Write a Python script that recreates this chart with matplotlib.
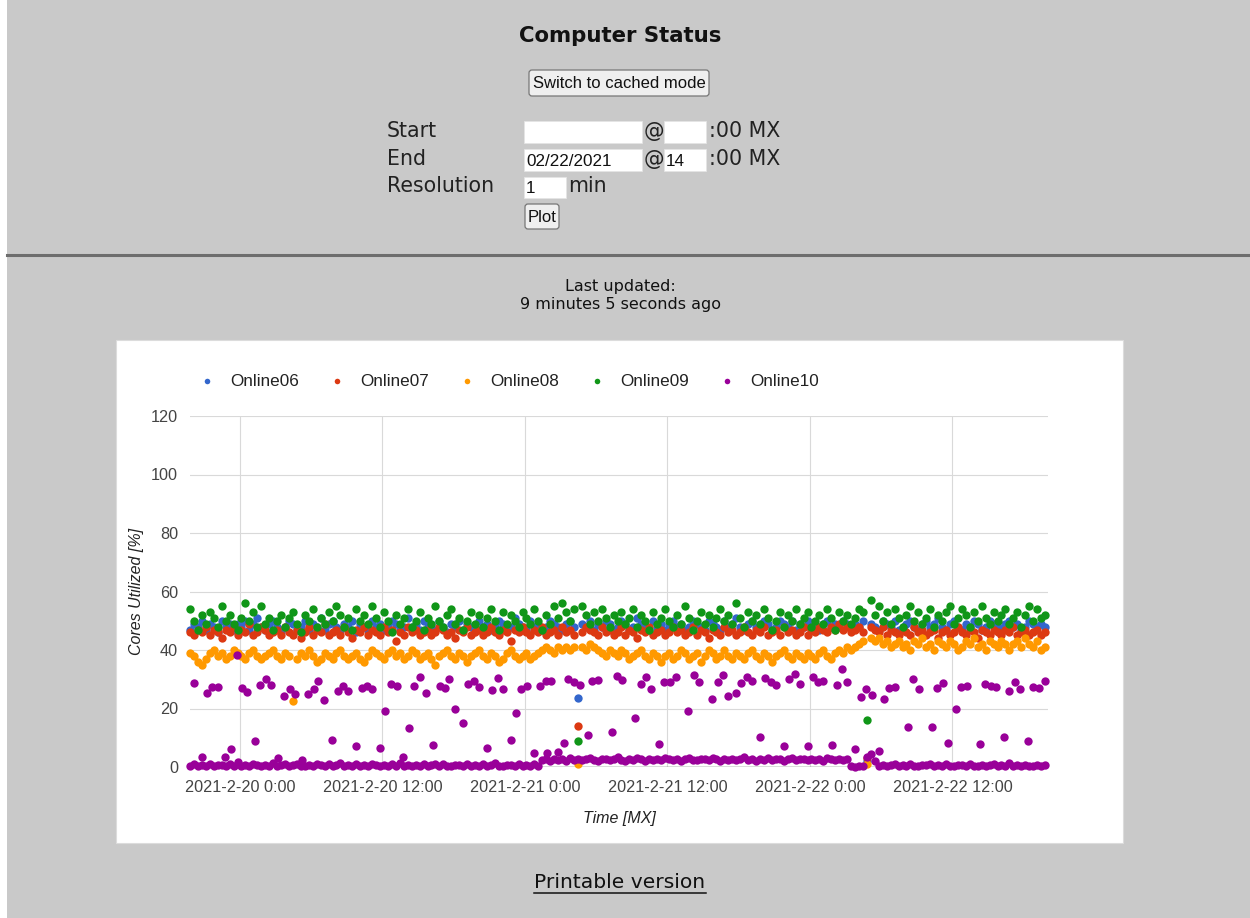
import matplotlib
matplotlib.use("Agg")
import matplotlib.pyplot as plt
from matplotlib.patches import Rectangle, FancyBboxPatch
from matplotlib.lines import Line2D
from matplotlib.transforms import Affine2D
from datetime import datetime, timedelta

W, H = 1250, 918

hosts = ["Online06", "Online07", "Online08", "Online09", "Online10"]
colors = ["#3366cc", "#dc3912", "#ff9900", "#109618", "#990099"]

# samples every 20 min starting here
t0 = datetime(2021, 2, 19, 19, 48)
step_min = 20

online06 = [47, 49, 48, 50, 47, 49, 48, 46, 50, 48, 49, 47,
            49, 48, 50, 47, 49, 51, 48, 47, 49, 50, 48, 46,
            48, 50, 49, 47, 48, 50, 47, 49, 48, 51, 47, 49,
            50, 48, 47, 49, 48, 50, 46, 49, 48, 47, 50, 48,
            49, 47, 48, 50, 49, 47, 48, 51, 48, 49, 47, 50,
            48, 49, 47, 50, 48, 46, 49, 48, 50, 47, 49, 48,
            47, 50, 48, 49, 47, 48, 50, 49, 47, 48, 51, 49,
            48, 47, 50, 48, 49, 47, 48, 50, 49, 48, 47, 49,
            50, 48, 23.5, 49, 48, 50, 47, 49, 48, 50, 49, 47,
            48, 50, 49, 47, 48, 51, 49, 48, 47, 50, 48, 49,
            47, 49, 50, 48, 49, 47, 48, 50, 49, 48, 47, 50,
            49, 48, 47, 50, 48, 49, 51, 48, 47, 49, 50, 48,
            48, 50, 49, 47, 48, 50, 49, 48, 50, 47, 49, 48,
            50, 49, 48, 47, 49, 50, 48, 49, 48, 50, 49, 48,
            49, 48, 50, 2, 49, 48, 47, 50, 49, 48, 50, 47,
            48, 49, 50, 48, 47, 49, 50, 48, 49, 51, 48, 47,
            49, 50, 48, 47, 49, 48, 50, 49, 47, 48, 50, 49,
            48, 47, 49, 50, 48, 49, 47, 48, 50, 49, 48, 49,
            48]

online07 = [46, 45, 47, 46, 48, 45, 47, 46, 44, 47, 46, 48,
            45, 47, 46, 49, 45, 46, 48, 47, 45, 46, 47, 45,
            48, 46, 45, 47, 44, 46, 48, 45, 47, 46, 49, 45,
            46, 47, 45, 48, 46, 44, 47, 46, 48, 45, 47, 46,
            45, 48, 46, 47, 43, 46, 45, 48, 46, 47, 45, 46,
            47, 45, 46, 48, 47, 45, 46, 44, 47, 46, 48, 45,
            46, 47, 45, 46, 48, 46, 45, 47, 46, 43, 47, 46,
            48, 46, 45, 47, 46, 48, 45, 46, 47, 45, 48, 46,
            47, 45, 14, 46, 48, 47, 46, 45, 48, 46, 47, 45,
            46, 48, 45, 47, 46, 44, 47, 46, 48, 45, 46, 47,
            45, 46, 48, 46, 47, 45, 46, 48, 45, 47, 46, 44,
            47, 46, 45, 48, 46, 47, 45, 46, 48, 46, 45, 47,
            46, 48, 45, 46, 47, 45, 48, 46, 47, 45, 46, 48,
            45, 47, 46, 48, 47, 46, 48, 47, 49, 47, 48, 46,
            47, 48, 46, 3, 48, 47, 46, 48, 45, 47, 46, 45,
            47, 46, 45, 48, 46, 47, 45, 46, 47, 44, 46, 47,
            45, 46, 48, 46, 45, 47, 46, 44, 47, 46, 45, 47,
            46, 45, 47, 46, 48, 45, 46, 47, 45, 46, 47, 45,
            46]

online08 = [39, 38, 36, 35, 37, 39, 40, 38, 39, 37, 38, 40,
            39, 38, 37, 39, 40, 38, 37, 38, 39, 40, 38, 37,
            39, 38, 22.5, 37, 39, 38, 40, 38, 36, 37, 39, 38,
            37, 39, 40, 38, 37, 38, 39, 37, 36, 38, 40, 39,
            38, 37, 39, 40, 38, 39, 37, 38, 40, 39, 37, 38,
            39, 37, 35, 38, 39, 40, 38, 37, 39, 38, 36, 38,
            39, 40, 38, 37, 39, 38, 36, 37, 39, 40, 38, 37,
            38, 39, 37, 38, 39, 40, 41, 40, 39, 41, 40, 41,
            40, 41, 1, 41, 40, 42, 41, 40, 39, 38, 40, 39,
            38, 40, 39, 37, 38, 39, 40, 38, 37, 39, 38, 36,
            38, 39, 37, 38, 40, 39, 37, 38, 39, 36, 38, 40,
            39, 37, 38, 40, 38, 37, 39, 38, 37, 39, 40, 38,
            37, 39, 38, 36, 38, 39, 40, 38, 37, 39, 38, 37,
            39, 38, 37, 39, 40, 38, 37, 39, 40, 39, 41, 40,
            41, 42, 43, 1, 44, 43, 44, 42, 43, 41, 42, 43,
            41, 42, 40, 43, 42, 44, 41, 42, 40, 43, 42, 41,
            43, 42, 40, 41, 43, 42, 44, 41, 42, 40, 43, 42,
            41, 43, 42, 40, 42, 43, 41, 44, 42, 41, 43, 40,
            41]

online09 = [54, 50, 47, 52, 49, 53, 51, 48, 55, 50, 52, 49,
            47, 51, 56, 50, 53, 48, 55, 49, 51, 47, 50, 52,
            48, 51, 53, 49, 46, 52, 50, 54, 48, 51, 49, 53,
            50, 55, 52, 48, 51, 47, 54, 50, 52, 49, 55, 51,
            48, 53, 50, 46, 52, 49, 51, 54, 48, 50, 53, 47,
            51, 49, 55, 50, 48, 52, 54, 49, 51, 47, 50, 53,
            49, 52, 48, 51, 54, 50, 47, 53, 49, 52, 50, 48,
            53, 51, 49, 54, 50, 47, 52, 49, 55, 51, 56, 53,
            50, 54, 9, 55, 52, 49, 53, 50, 54, 51, 48, 52,
            50, 53, 49, 51, 54, 48, 52, 50, 47, 53, 49, 51,
            54, 50, 48, 52, 49, 55, 51, 47, 50, 53, 49, 52,
            48, 51, 54, 50, 52, 49, 56, 51, 48, 53, 50, 52,
            49, 54, 51, 47, 50, 53, 48, 52, 50, 54, 49, 51,
            53, 48, 50, 52, 49, 54, 51, 47, 53, 50, 52, 49,
            51, 54, 53, 16, 57, 52, 55, 50, 53, 49, 54, 51,
            48, 52, 55, 50, 53, 49, 51, 54, 48, 52, 50, 53,
            55, 49, 51, 54, 52, 48, 53, 50, 55, 51, 49, 53,
            50, 52, 54, 49, 51, 53, 48, 52, 55, 50, 54, 51,
            52]

online10 = [0.4, 0.9, 0.3, 0.7, 0.5, 1.1, 0.2, 0.8, 0.6, 0.3, 0.9, 0.5,
            1.6, 0.4, 0.7, 0.2, 1.0, 0.6, 0.3, 0.8, 0.5, 1.2, 0.4, 0.7,
            0.9, 0.3, 0.6, 1.0, 0.2, 0.5, 0.8, 0.4, 1.1, 0.6, 0.3, 0.9,
            0.5, 0.7, 1.3, 0.4, 0.6, 0.2, 0.9, 0.5, 0.8, 0.3, 1.0, 0.6,
            0.4, 0.7, 0.3, 0.9, 0.5, 1.2, 0.4, 0.7, 0.2, 0.8, 0.5, 1.0,
            0.3, 0.6, 0.9, 0.4, 1.1, 0.5, 0.2, 0.8, 0.6, 0.3, 1.0, 0.5,
            0.7, 0.4, 0.9, 0.2, 0.6, 1.2, 0.5, 0.3, 0.8, 0.6, 0.4, 0.9,
            0.5, 0.7, 0.3, 1.0, 0.4, 2.3, 2.6, 2.1, 2.9, 2.4, 2.7, 2.2,
            3.0, 2.5, 2.8, 2.3, 2.6, 3.1, 2.4, 2.0, 2.7, 2.9, 2.3, 2.6,
            3.3, 2.5, 2.2, 2.8, 2.4, 3.0, 2.6, 2.1, 2.9, 2.5, 2.7, 2.3,
            3.2, 2.6, 2.4, 2.8, 2.2, 2.7, 3.0, 2.5, 2.3, 2.9, 2.6, 2.4,
            3.1, 2.7, 2.2, 2.8, 2.5, 2.9, 2.3, 2.6, 3.4, 2.4, 2.7, 2.1,
            2.8, 2.5, 3.0, 2.3, 2.6, 2.9, 2.2, 2.7, 3.1, 2.4, 2.6, 2.8,
            2.3, 2.9, 2.5, 2.7, 2.2, 3.0, 2.6, 2.4, 2.8, 2.5, 2.7, 0.3,
            0.1, 0.4, 0.2, 3.5, 4.6, 2.0, 0.5, 0.8, 0.3, 0.6, 1.0, 0.4,
            0.7, 0.2, 0.9, 0.5, 0.3, 0.8, 0.6, 1.1, 0.4, 0.7, 0.2, 0.9,
            0.5, 0.3, 0.8, 0.6, 0.4, 1.0, 0.5, 0.3, 0.7, 0.4, 0.6, 0.9,
            0.3, 0.7, 0.5, 1.2, 0.4, 0.6, 0.2, 0.8, 0.5, 0.3, 0.7, 0.4,
            0.6]

# Online10 also logs bursts in between the regular samples (hours after t0)
online10_burst_h = [0.34, 0.99, 1.41, 1.85, 2.36, 2.95, 3.45, 3.93, 4.35, 4.77,
                    5.47, 5.89, 6.37, 6.82, 7.44, 7.92, 8.42, 8.84, 9.46, 9.91,
                    10.42, 10.80, 11.28, 11.93, 12.44, 12.91, 13.33, 13.95, 14.46, 14.88,
                    15.30, 16.00, 16.42, 16.93, 17.41, 17.96, 18.44, 18.89, 19.39, 19.85,
                    20.49, 21.05, 21.47, 21.84, 22.32, 22.96, 23.44, 23.89, 24.34, 24.98,
                    25.46, 25.91, 26.33, 27.01, 27.45, 27.87, 28.35, 28.99, 29.47, 29.98,
                    30.09, 30.40, 31.01, 31.52, 31.86, 32.36, 32.84, 33.49, 33.88, 34.38,
                    35.51, 35.93, 36.40, 37.47, 37.95, 38.38, 38.80, 39.49, 39.94, 40.42,
                    40.90, 41.96, 42.44, 42.86, 43.98, 44.44, 44.86, 45.33, 45.98, 46.43,
                    46.88, 47.30, 48.00, 48.42, 48.90, 49.35, 50.02, 50.47, 50.95, 51.37,
                    52.02, 52.44, 52.91, 53.33, 54.04, 54.46, 54.93, 55.35, 56.00, 56.48,
                    56.93, 57.41, 58.02, 58.47, 58.89, 59.37, 60.49, 60.91, 61.39, 62.46,
                    62.93, 63.38, 63.86, 64.51, 64.93, 65.41, 66.53, 66.95, 67.43, 67.87,
                    68.55, 68.99, 69.47, 69.89, 70.54, 70.97, 71.47, 72.00]
online10_burst_v = [28.6, 3.5, 25.2, 27.2, 27.2, 3.5, 6.0, 38.3, 26.9, 25.5,
                    8.9, 28.0, 30.0, 28.0, 3.0, 24.3, 26.6, 25.0, 2.4, 25.0,
                    26.8, 29.5, 22.9, 9.2, 26.0, 27.7, 26.1, 7.2, 27.1, 27.7,
                    26.8, 6.4, 19.1, 28.4, 27.7, 3.3, 13.4, 27.7, 30.8, 25.2,
                    7.5, 27.7, 26.9, 30.1, 19.7, 15.2, 28.4, 29.5, 27.2, 6.6,
                    26.3, 30.3, 26.8, 9.2, 18.3, 26.8, 27.8, 4.9, 27.7, 29.5,
                    4.9, 29.5, 5.2, 8.1, 30.1, 29.2, 28.0, 10.8, 29.4, 29.7,
                    12.0, 31.2, 29.7, 16.8, 28.4, 30.9, 26.6, 7.8, 29.1, 29.1,
                    30.9, 19.3, 31.5, 29.2, 23.2, 29.2, 31.5, 24.3, 25.2, 28.6,
                    30.9, 29.5, 10.1, 30.3, 29.1, 28.0, 7.3, 30.0, 31.8, 28.4,
                    7.2, 30.9, 29.1, 29.5, 7.5, 27.9, 33.5, 29.1, 6.0, 23.8,
                    26.8, 24.6, 5.5, 23.2, 27.1, 27.2, 13.8, 30.1, 26.7, 13.6,
                    26.9, 28.6, 8.3, 19.7, 27.5, 27.7, 8.0, 28.4, 27.8, 27.5,
                    10.1, 26.1, 29.2, 26.7, 9.0, 27.5, 26.9, 29.5]

x_ticks = [datetime(2021, 2, 20, 0), datetime(2021, 2, 20, 12),
           datetime(2021, 2, 21, 0), datetime(2021, 2, 21, 12),
           datetime(2021, 2, 22, 0), datetime(2021, 2, 22, 12)]
x_tick_labels = ["2021-2-20 0:00", "2021-2-20 12:00", "2021-2-21 0:00",
                 "2021-2-21 12:00", "2021-2-22 0:00", "2021-2-22 12:00"]
y_ticks = [0, 20, 40, 60, 80, 100, 120]

times = [t0 + timedelta(minutes=step_min * i) for i in range(len(online06))]
burst_times = [t0 + timedelta(hours=h) for h in online10_burst_h]

fig = plt.figure(figsize=(W / 100, H / 100), dpi=100, facecolor="#c9c9c9")
# page coordinates in pixels, y pointing down
px = Affine2D().scale(1 / W, -1 / H).translate(0, 1) + fig.transFigure

PAGE_FONT = "DejaVu Sans"
UI_FONT = "Liberation Sans"

fig.add_artist(Rectangle((0, 0), 7, H, transform=px, facecolor="white",
                         edgecolor="none", zorder=-2))

# header form
fig.text(620, 36, "Computer Status", transform=px, ha="center", va="center",
         fontsize=15.3, fontweight="bold", family=PAGE_FONT, color="#111111")


def button(x, y, w, h, label):
    fig.add_artist(FancyBboxPatch((x, y), w, h, boxstyle="round,pad=0,rounding_size=3",
                                  transform=px, facecolor="#efefef", edgecolor="#767676",
                                  linewidth=0.9))
    fig.text(x + w / 2, y + h / 2 + 1, label, transform=px, ha="center", va="center",
             fontsize=12, family=UI_FONT, color="#111111")


def field(x, y, w, h, value=""):
    fig.add_artist(Rectangle((x, y), w, h, transform=px, facecolor="white",
                             edgecolor="#e4e4e4", linewidth=0.6))
    if value:
        fig.text(x + 2, y + h / 2 + 1, value, transform=px, ha="left", va="center",
                 fontsize=12.3, family=UI_FONT, color="#111111")


button(529, 70, 180, 26, "Switch to cached mode")

LABEL_PT = 14.8
rows = [("Start", 131, ""), ("End", 159, "02/22/2021")]
for label, yc, date in rows:
    fig.text(387, yc, label, transform=px, ha="left", va="center",
             fontsize=LABEL_PT, family=PAGE_FONT, color="#222222")
    field(524, yc - 10, 118, 22, date)
    fig.text(644, yc, "@", transform=px, ha="left", va="center",
             fontsize=LABEL_PT, family=PAGE_FONT, color="#222222")
    field(664, yc - 10, 42, 22, "14" if date else "")
    fig.text(709, yc, ":00 MX", transform=px, ha="left", va="center",
             fontsize=LABEL_PT, family=PAGE_FONT, color="#222222")

fig.text(387, 186, "Resolution", transform=px, ha="left", va="center",
         fontsize=LABEL_PT, family=PAGE_FONT, color="#222222")
field(524, 177, 42, 21, "1")
fig.text(568, 186, "min", transform=px, ha="left", va="center",
         fontsize=LABEL_PT, family=PAGE_FONT, color="#222222")
button(525, 204, 34, 25, "Plot")

fig.add_artist(Line2D([7, W], [254.5, 254.5], transform=px, color="#6d6d6d", linewidth=2.2))

fig.text(620, 286, "Last updated:", transform=px, ha="center", va="center",
         fontsize=11.5, family=PAGE_FONT, color="#111111")
fig.text(620, 304, "9 minutes 5 seconds ago", transform=px, ha="center", va="center",
         fontsize=11.5, family=PAGE_FONT, color="#111111")

# chart panel, kept under the axes
fig.add_artist(Rectangle((116, 340), 1007, 503, transform=px, facecolor="white",
                         edgecolor="#dcdcdc", linewidth=0.8, zorder=-1))

ax = fig.add_axes([190 / W, 1 - 767 / H, 858 / W, 351 / H])
ax.set_zorder(1)
ax.set_facecolor("white")
for s in ax.spines.values():
    s.set_visible(False)

DOT = 36
series = [online06, online07, online08, online09]
for vals, c in zip(series, colors[:4]):
    ax.scatter(times, vals, s=DOT, color=c, linewidths=0, zorder=3, clip_on=False)
ax.scatter(times + burst_times, online10 + online10_burst_v, s=DOT, color=colors[4],
           linewidths=0, zorder=3, clip_on=False)

ax.set_xlim(t0, t0 + timedelta(hours=72.25))
ax.set_ylim(0, 120)
ax.set_yticks(y_ticks)
ax.set_xticks(x_ticks)
ax.set_xticklabels(x_tick_labels)
ax.grid(True, color="#d9d9d9", linewidth=0.8, zorder=0)
ax.set_axisbelow(True)
ax.axhline(0, color="#555555", linewidth=1.0, zorder=1)
ax.tick_params(length=0, labelsize=11.7, labelcolor="#444444")
ax.tick_params(axis="y", pad=8.5)
ax.tick_params(axis="x", pad=9)
for lab in ax.get_xticklabels() + ax.get_yticklabels():
    lab.set_family(UI_FONT)

fig.text(619, 819, "Time [MX]", transform=px, ha="center", va="center",
         fontsize=11.5, style="italic", family=UI_FONT, color="#222222", zorder=2)
fig.text(137, 591, "Cores Utilized [%]", transform=px, ha="center", va="center",
         rotation=90, fontsize=11.5, style="italic", family=UI_FONT, color="#222222",
         zorder=2)

# legend row
for k, (name, c) in enumerate(zip(hosts, colors)):
    lx = 207 + 130 * k
    fig.add_artist(Line2D([lx], [381], transform=px, marker="o", markersize=4,
                          color=c, markeredgewidth=0, linestyle="none", zorder=2))
    fig.text(lx + 23, 381, name, transform=px, ha="left", va="center",
             fontsize=12.3, family=UI_FONT, color="#222222", zorder=2)

# footer link
fig.text(620, 882, "Printable version", transform=px, ha="center", va="center",
         fontsize=14.6, family=PAGE_FONT, color="#111111")
fig.add_artist(Line2D([534, 706], [892.5, 892.5], transform=px, color="#111111", linewidth=1.1))

fig.savefig("out.png", dpi=100, facecolor=fig.get_facecolor())
